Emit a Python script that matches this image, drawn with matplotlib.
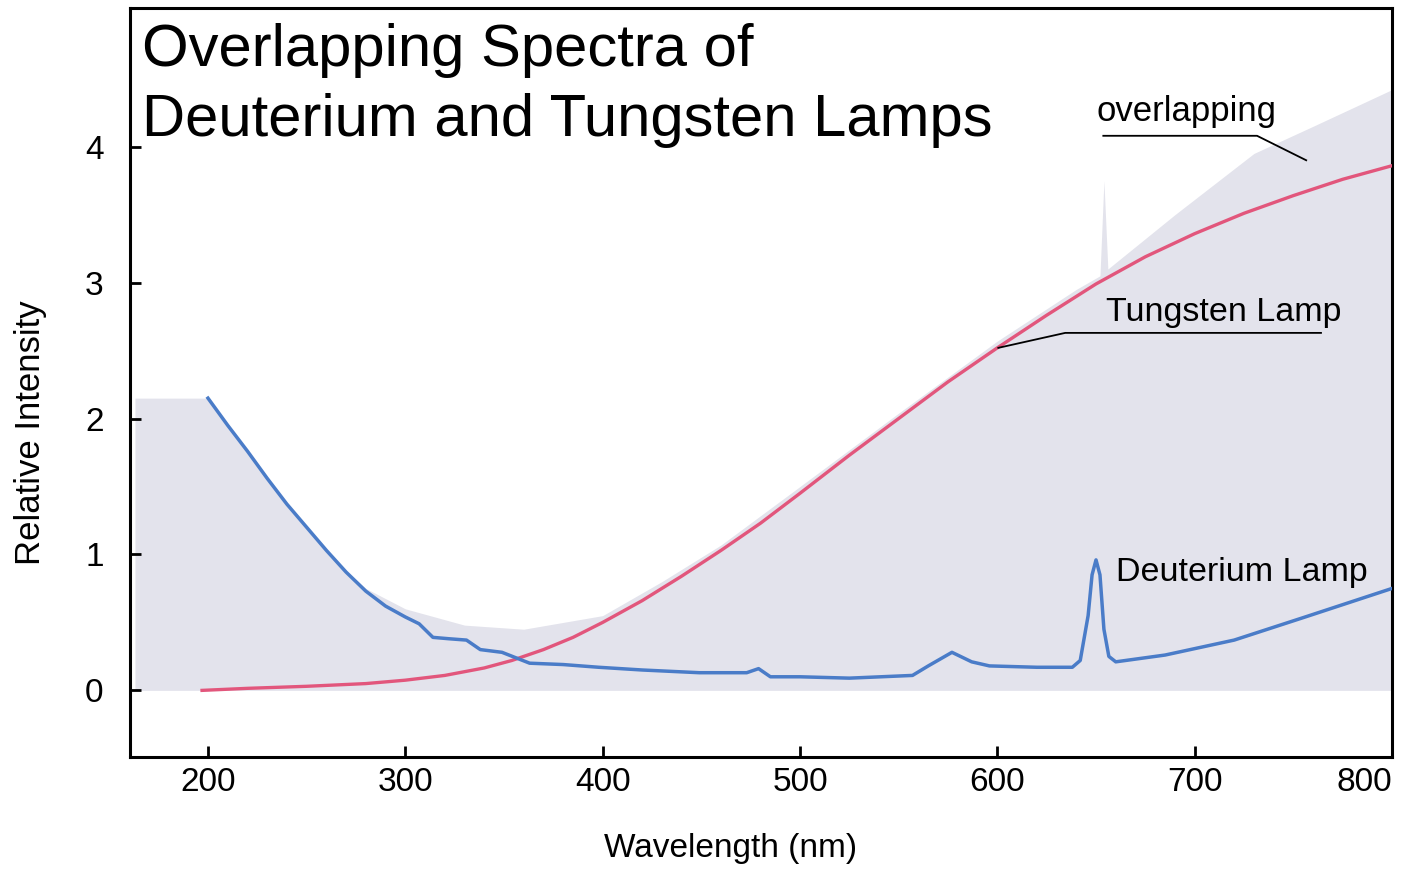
import matplotlib
matplotlib.use("Agg")
import matplotlib.pyplot as plt

plt.rcParams['font.family'] = ['Liberation Sans', 'DejaVu Sans']

# data
tung_nm = [197, 220, 250, 280, 300, 320, 340, 354, 370, 385, 400, 420, 440,
           460, 480, 500, 525, 550, 575, 600, 625, 650, 675, 700, 725, 750,
           775, 800]
tung_val = [0.0, 0.015, 0.03, 0.05, 0.075, 0.11, 0.165, 0.22, 0.30, 0.39,
            0.50, 0.66, 0.84, 1.03, 1.23, 1.45, 1.73, 2.00, 2.27, 2.52, 2.76,
            2.99, 3.19, 3.36, 3.51, 3.64, 3.76, 3.86]

deut_nm = [200, 210, 220, 230, 240, 250, 260, 270, 280, 290, 300, 307, 314,
           322, 331, 338, 349, 356, 363, 380, 398, 420, 449, 473, 477, 479,
           482, 485, 500, 525, 557, 565, 577, 587, 596, 620, 638, 642, 646,
           648, 650, 652, 654, 656.5, 660, 685, 720, 756, 800]
deut_val = [2.15, 1.95, 1.76, 1.56, 1.37, 1.20, 1.03, 0.87, 0.73, 0.62, 0.54,
            0.49, 0.39, 0.38, 0.37, 0.30, 0.28, 0.24, 0.20, 0.19, 0.17, 0.15,
            0.13, 0.13, 0.15, 0.16, 0.13, 0.10, 0.10, 0.09, 0.11, 0.18, 0.28,
            0.21, 0.18, 0.17, 0.17, 0.22, 0.55, 0.85, 0.96, 0.85, 0.45, 0.25,
            0.21, 0.26, 0.37, 0.54, 0.75]

# shaded envelope (covered range of the two lamps)
shade_nm = [163, 200, 240, 262, 280, 300, 330, 360, 400, 430, 460, 500, 550,
            600, 640, 652, 654, 656, 690, 730, 760, 800]
shade_top = [2.15, 2.15, 1.37, 0.98, 0.75, 0.6, 0.48, 0.45, 0.55, 0.80, 1.07,
             1.50, 2.04, 2.57, 2.95, 3.05, 3.75, 3.1, 3.5, 3.95, 4.15, 4.42]

x_ticks = [200, 300, 400, 500, 600, 700, 800]
y_ticks = [0, 1, 2, 3, 4]

fig = plt.figure(figsize=(14.01, 8.72), dpi=100)
ax = fig.add_axes([0.0928, 0.1319, 0.9008, 0.8589])

ax.fill_between(shade_nm, 0, shade_top, color='#e3e3ec', linewidth=0, zorder=1)

ax.plot(tung_nm, tung_val, color='#e2567c', linewidth=2.4, zorder=3)
ax.plot(deut_nm, deut_val, color='#4a7cc8', linewidth=2.5, zorder=3)

ax.set_xlim(160.5, 800)
ax.set_ylim(-0.49, 5.02)
ax.set_xticks(x_ticks)
ax.set_yticks(y_ticks)
ax.tick_params(direction='in', length=8, width=2, labelsize=24)
ax.tick_params(axis='x', pad=7)
ax.tick_params(axis='y', pad=19)
ax.get_xticklabels()[-1].set_horizontalalignment('right')
for s in ax.spines.values():
    s.set_linewidth(2.2)

ax.set_xlabel("Wavelength (nm)", fontsize=24)
ax.xaxis.set_label_coords(0.476, -0.102)
ax.set_ylabel("Relative Intensity", fontsize=25)
ax.yaxis.set_label_coords(-0.066, 0.433)

ax.text(0.0095, 0.9226, "Overlapping Spectra of", transform=ax.transAxes,
        fontsize=43, va='baseline', ha='left')
ax.text(0.0095, 0.829, "Deuterium and Tungsten Lamps", transform=ax.transAxes,
        fontsize=43, va='baseline', ha='left')

# labels with leader lines
ax.text(650, 4.19, "overlapping", fontsize=25, va='baseline', ha='left')
ax.plot([653.7, 731.6, 756.5], [4.08, 4.08, 3.90], color='black', linewidth=1.3, zorder=4)
ax.text(655, 2.72, "Tungsten Lamp", fontsize=24.5, va='baseline', ha='left')
ax.plot([600.5, 634.4, 764], [2.52, 2.63, 2.63], color='black', linewidth=1.3, zorder=4)
ax.text(660, 0.87, "Deuterium Lamp", fontsize=24.5, va='center', ha='left')

fig.savefig("out.png", dpi=100)
